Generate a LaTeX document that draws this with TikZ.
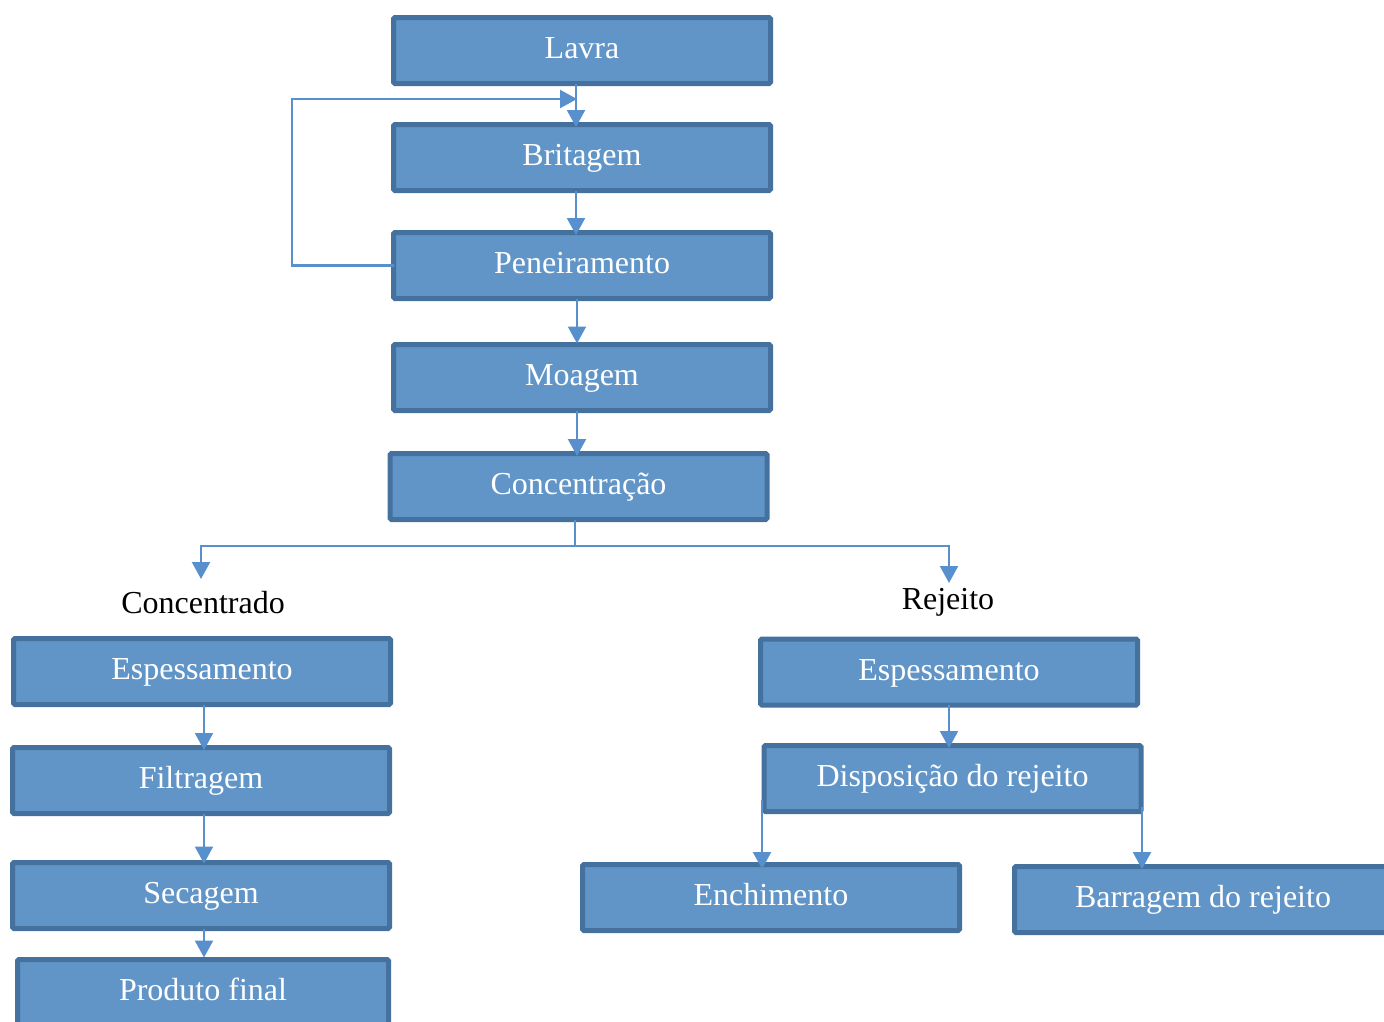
\documentclass[tikz,border=0pt]{standalone}
\usepackage{fontspec}
\setmainfont{Liberation Serif}
\usetikzlibrary{arrows.meta,calc}
\definecolor{boxfill}{RGB}{97,149,200}
\definecolor{boxborder}{RGB}{68,113,158}
\definecolor{linecol}{RGB}{88,144,205}
\begin{document}
\begin{tikzpicture}[x=1pt,y=-1pt,
  stage/.style={draw=boxborder, fill=boxfill, line width=5pt, rounded corners=1.5pt,
    text=white, font=\fontsize{32}{38}\selectfont, minimum width=377, minimum height=66,
    text height=22pt, text depth=5.5pt, inner sep=0pt, outer sep=0pt},
  lbl/.style={font=\fontsize{32}{38}\selectfont, anchor=base, inner sep=0pt},
  conn/.style={draw=linecol, line width=2.2pt},
  arr/.style={conn, -{Triangle[width=18pt,length=17pt]}}]
\useasboundingbox (0,0) rectangle (1384,1021);

% main line
\node[stage] (lavra) at (582,50.5) {Lavra};
\node[stage] (brit)  at (582,157.5) {Britagem};
\node[stage] (pen)   at (582,265.5) {Peneiramento};
\node[stage] (moag)  at (582,377.5) {Moagem};
\node[stage] (conc)  at (578.5,486.5) {Concentração};

% concentrate branch
\node[lbl] (lconc) at (203,613) {Concentrado};
\node[stage] (esp1) at (202,671.5) {Espessamento};
\node[stage] (filt) at (201,780.5) {Filtragem};
\node[stage] (sec)  at (201,895.5) {Secagem};
\node[stage, minimum width=371] (prod) at (203,992.5) {Produto final};

% tailings branch
\node[lbl] (lrej) at (948,609) {Rejeito};
\node[stage] (esp2) at (949,672) {Espessamento};
\node[stage] (disp) at (952.5,778.5) {Disposição do rejeito};
\node[stage] (ench) at (771,897.5) {Enchimento};
\node[stage] (barr) at (1203,899.5) {Barragem do rejeito};

% connectors of the main line
\draw[arr] ([xshift=-6]lavra.south) -- ([xshift=-6,yshift=-2.5]brit.north);
\draw[arr] ([xshift=-6]brit.south) -- ([xshift=-6,yshift=-2.5]pen.north);
\draw[arr] ([xshift=-5]pen.south) -- ([xshift=-5,yshift=1]moag.north);
\draw[arr] ([xshift=-5]moag.south) -- ([xshift=-1.5,yshift=-2.5]conc.north);

% recycle loop from screening back to crushing
\coordinate (fb) at (577,99);
\draw[arr] (pen.west) -- ++(-101.5,0) |- (fb);

% split after concentration
\coordinate (split) at (575,546);
\coordinate (tipL) at (201,579);
\coordinate (tipR) at (949,583);
\draw[conn] ([xshift=-3.5]conc.south) -- (split);
\draw[arr] (split) -| (tipL);
\draw[arr] (split) -| (tipR);

% concentrate chain
\draw[arr] ([xshift=2]esp1.south) -- ([xshift=3,yshift=-2.5]filt.north);
\draw[arr] ([xshift=3]filt.south) -- ([xshift=3,yshift=-1]sec.north);
\draw[arr] ([xshift=3]sec.south) -- ([xshift=1,yshift=2]prod.north);

% tailings chain
\draw[arr] (esp2.south) -- ([xshift=-3.5,yshift=-2.5]disp.north);
\coordinate (d1) at (762,800);
\coordinate (d2) at (1142,807);
\draw[arr] (d1) -- ([yshift=-4.5]d1 |- ench.north);
\draw[arr] (d2) -- ([yshift=-2.5]d2 |- barr.north);
\end{tikzpicture}
\end{document}
